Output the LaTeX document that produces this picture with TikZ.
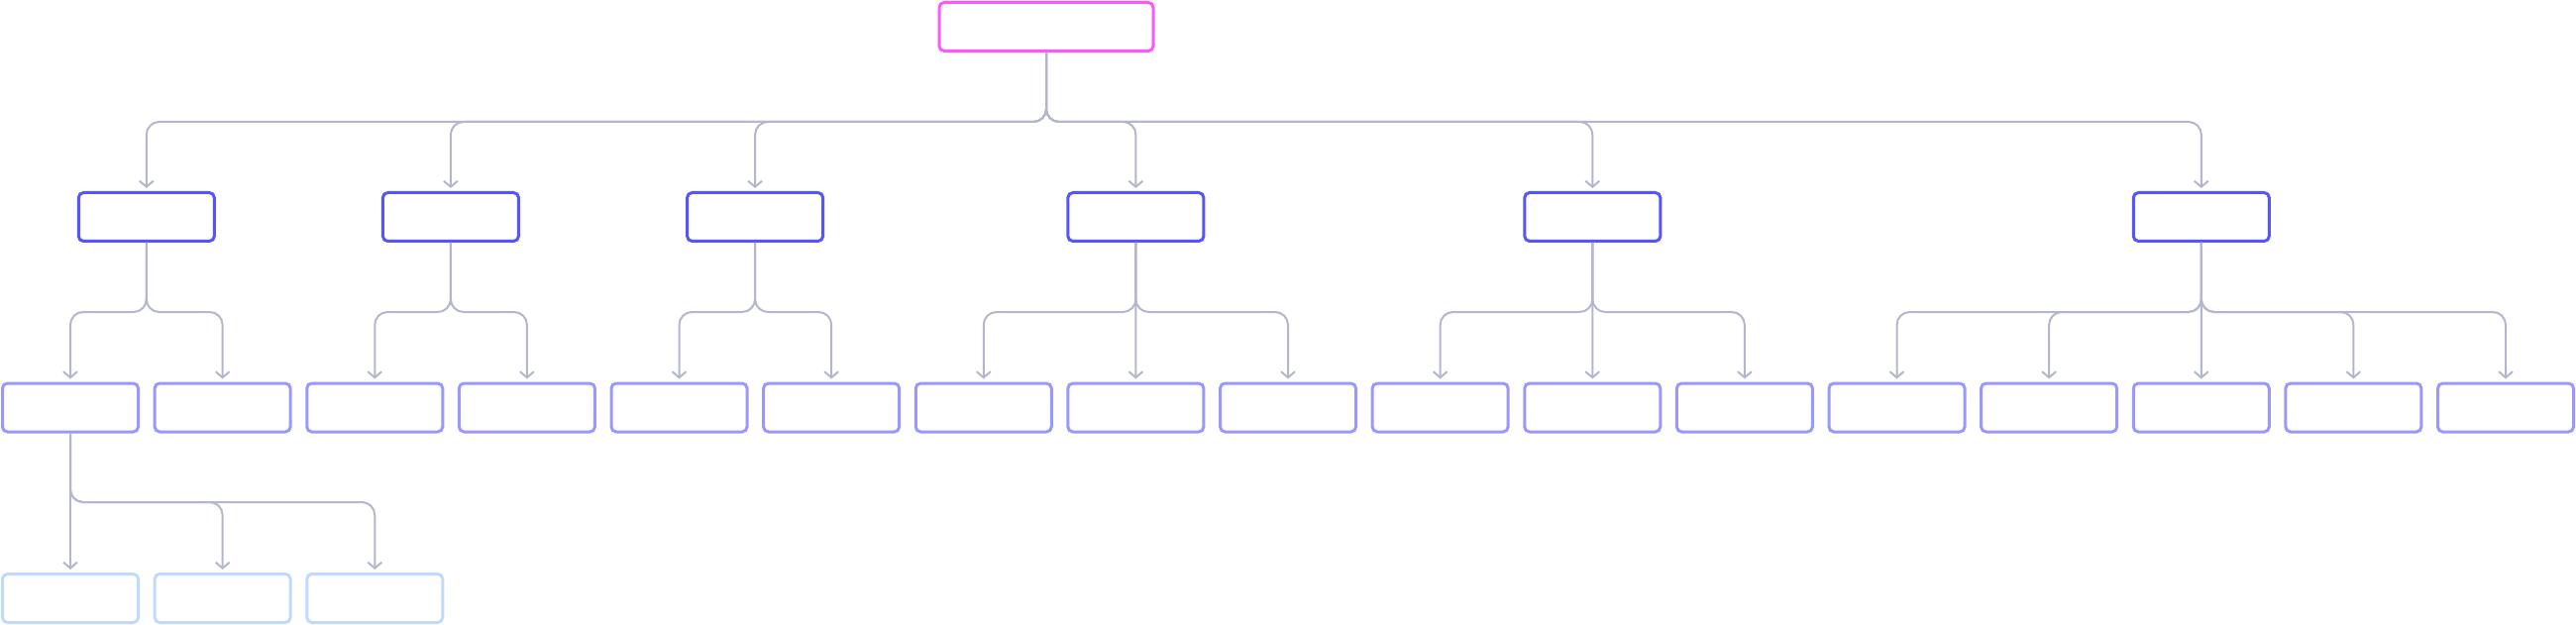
\documentclass[tikz,border=0pt]{standalone}
\usetikzlibrary{arrows.meta}
\definecolor{rootpink}{RGB}{255,85,255}
\definecolor{levelblue}{RGB}{85,85,255}
\definecolor{leafblue}{RGB}{152,152,255}
\definecolor{paleblue}{RGB}{192,217,255}
\definecolor{linkgray}{RGB}{180,182,206}
\tikzset{
  box/.style={
    rectangle,
    rounded corners=5pt,
    line width=3pt,
    fill=white,
    minimum width=137pt,
    minimum height=49pt,
    inner sep=0pt
  },
  node-root/.style={box, draw=rootpink, minimum width=216pt},
  node-mid/.style={box, draw=levelblue},
  node-leaf/.style={box, draw=leafblue},
  node-sub/.style={box, draw=paleblue},
  link/.style={
    draw=linkgray,
    line width=2pt,
    rounded corners=13pt,
    shorten >=3pt,
    -{Straight Barb[length=6pt,width=14pt,line width=2pt]}
  }
}
\newcommand{\branch}[3]{%
  \draw[link] (#1.south) -- (#1.south |- 0,#3) -| (#2.north);
}
\newcommand{\drop}[2]{%
  \draw[link] (#1.south) -- (#2.north);
}

\begin{document}
\begin{tikzpicture}[x=1pt,y=-1pt]
  \useasboundingbox (0,0) rectangle (2600,631);
  % top
  \node[node-root] (root) at (1056,27) {};
  % first level
  \node[node-mid] (a1) at (147.8,219) {};
  \node[node-mid] (a2) at (454.9,219) {};
  \node[node-mid] (a3) at (762.1,219) {};
  \node[node-mid] (a4) at (1146.4,219) {};
  \node[node-mid] (a5) at (1607.3,219) {};
  \node[node-mid] (a6) at (2221.8,219) {};
  % second level
  \foreach \i in {0,...,16} {
    \node[node-leaf] (b\i) at ({71+153.625*\i},411.5) {};
  }
  % third level
  \foreach \i in {1,2,3} {
    \node[node-sub] (c\i) at ({71+153.625*(\i-1)},604) {};
  }
  % connectors
  \foreach \k in {1,...,6} {
    \branch{root}{a\k}{123}
  }
  \branch{a1}{b0}{315}
  \branch{a1}{b1}{315}
  \branch{a2}{b2}{315}
  \branch{a2}{b3}{315}
  \branch{a3}{b4}{315}
  \branch{a3}{b5}{315}
  \branch{a4}{b6}{315}
  \drop{a4}{b7}
  \branch{a4}{b8}{315}
  \branch{a5}{b9}{315}
  \drop{a5}{b10}
  \branch{a5}{b11}{315}
  \foreach \k in {12,13,15,16} {
    \branch{a6}{b\k}{315}
  }
  \drop{a6}{b14}
  \drop{b0}{c1}
  \branch{b0}{c2}{507}
  \branch{b0}{c3}{507}
\end{tikzpicture}
\end{document}
